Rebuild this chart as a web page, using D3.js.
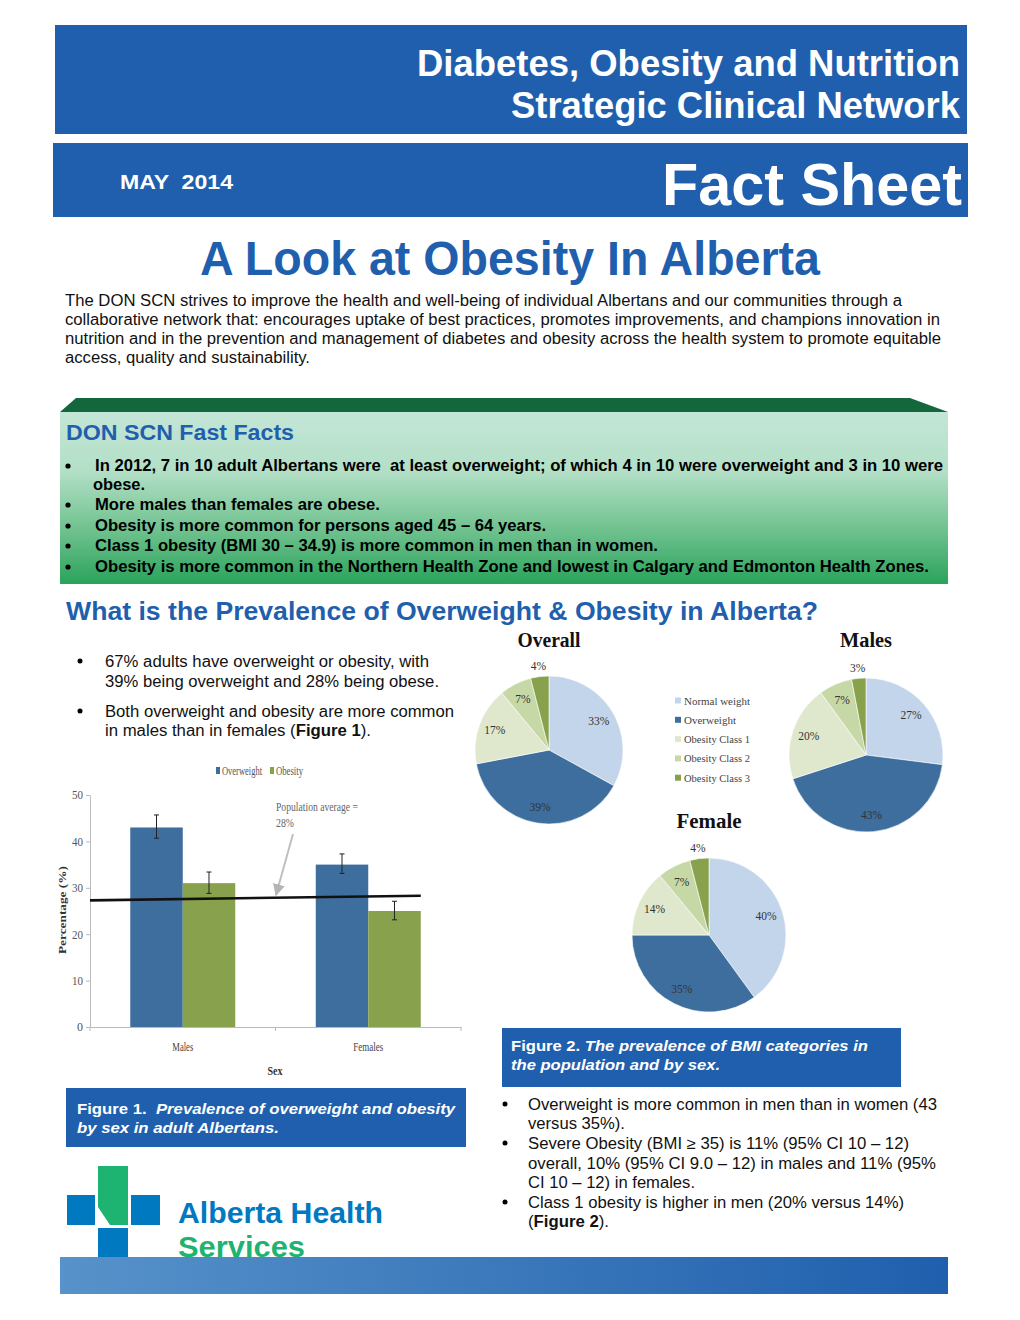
<!DOCTYPE html>
<html><head><meta charset="utf-8">
<script src="https://cdn.jsdelivr.net/npm/d3@7"></script>
<style>html,body{margin:0;padding:0;background:#fff;}svg{display:block;}</style>
</head><body>
<script>
// ---------- DATA ----------
const barCategories = ["Males", "Females"];
const barSeries = ["Overweight", "Obesity"];
const overweightValues = [43, 35];
const obesityValues = [31, 25];
const overweightErrLow = [40.7, 33.1];
const overweightErrHigh = [45.7, 37.3];
const obesityErrLow = [28.8, 23.1];
const obesityErrHigh = [33.4, 27.1];
const popAverageLine = [27.3, 28.3];
const yTicks = [0, 10, 20, 30, 40, 50];

const pieCategories = ["Normal weight", "Overweight", "Obesity Class 1", "Obesity Class 2", "Obesity Class 3"];
const overallValues = [33, 39, 17, 7, 4];
const malesValues = [27, 43, 20, 7, 3];
const femaleValues = [40, 35, 14, 7, 4];

// ---------- SETUP ----------
const W = 1020, H = 1320;
const SANS = "'Liberation Sans', Arial, sans-serif";
const NARROW = "'Liberation Sans Narrow', 'Liberation Sans', Arial, sans-serif";
const SERIF = "'Liberation Serif', 'DejaVu Serif', serif";
const BLUE = "#1f5fae";

const svg = d3.select("body").append("svg").attr("width", W).attr("height", H);
const defs = svg.append("defs");

function T(g, x, y, s, o = {}) {
  const t = g.append("text").attr("x", x).attr("y", y)
    .attr("font-family", o.f || SANS).attr("font-size", o.s || 16)
    .attr("font-weight", o.w || "normal").attr("fill", o.c || "#000")
    .style("white-space", "pre");
  if (o.a) t.attr("text-anchor", o.a);
  if (o.i) t.attr("font-style", "italic");
  if (o.L) t.attr("textLength", o.L).attr("lengthAdjust", "spacingAndGlyphs");
  if (Array.isArray(s)) {
    s.forEach(seg => {
      const sp = t.append("tspan").text(seg[0]);
      if (seg[1]) sp.attr("font-weight", "bold");
      if (seg[2]) sp.attr("font-style", "italic");
    });
  } else t.text(s);
  return t;
}

// ---------- HEADER ----------
svg.append("rect").attr("x", 55).attr("y", 25).attr("width", 912).attr("height", 109).attr("fill", BLUE);
svg.append("rect").attr("x", 53).attr("y", 143).attr("width", 915).attr("height", 74).attr("fill", BLUE);
T(svg, 960, 76, "Diabetes, Obesity and Nutrition", {f: NARROW, s: 36, w: "bold", c: "#fff", a: "end", L: 543});
T(svg, 960, 118, "Strategic Clinical Network", {f: NARROW, s: 36, w: "bold", c: "#fff", a: "end", L: 449});
T(svg, 120, 189, "MAY  2014", {f: NARROW, s: 20, w: "bold", c: "#fff", L: 113});
T(svg, 962, 205, "Fact Sheet", {f: NARROW, s: 59, w: "bold", c: "#fff", a: "end", L: 300});

// ---------- TITLE & INTRO ----------
T(svg, 200, 275, "A Look at Obesity In Alberta", {f: NARROW, s: 48, w: "bold", c: BLUE, L: 620});
const intro = [
  ["The DON SCN strives to improve the health and well-being of individual Albertans and our communities through a", 837],
  ["collaborative network that: encourages uptake of best practices, promotes improvements, and champions innovation in", 875],
  ["nutrition and in the prevention and management of diabetes and obesity across the health system to promote equitable", 876],
  ["access, quality and sustainability.", 245]
];
intro.forEach((l, i) => T(svg, 65, 305.5 + i * 19, l[0], {f: NARROW, s: 16, c: "#111", L: l[1]}));

// ---------- FAST FACTS ----------
const gFF = defs.append("linearGradient").attr("id", "ffg").attr("x1", 0).attr("y1", 0).attr("x2", 0).attr("y2", 1);
gFF.append("stop").attr("offset", "0%").attr("stop-color", "#c4e6d7");
gFF.append("stop").attr("offset", "35%").attr("stop-color", "#b2dfc6");
gFF.append("stop").attr("offset", "70%").attr("stop-color", "#6cc08c");
gFF.append("stop").attr("offset", "100%").attr("stop-color", "#2aa35b");
svg.append("polygon").attr("points", "76,398 910,398 948,412 60,412").attr("fill", "#14673d");
svg.append("rect").attr("x", 60).attr("y", 412).attr("width", 888).attr("height", 172).attr("fill", "url(#ffg)");
T(svg, 66, 440, "DON SCN Fast Facts", {f: NARROW, s: 22, w: "bold", c: BLUE, L: 228});
const facts = [
  [95, 466, "In 2012, 7 in 10 adult Albertans were  at least overweight; of which 4 in 10 were overweight and 3 in 10 were", 848, true],
  [93, 485, "obese.", 52, false],
  [95, 505, "More males than females are obese.", 285, true],
  [95, 526, "Obesity is more common for persons aged 45 – 64 years.", 451, true],
  [95, 546, "Class 1 obesity (BMI 30 – 34.9) is more common in men than in women.", 563, true],
  [95, 567, "Obesity is more common in the Northern Health Zone and lowest in Calgary and Edmonton Health Zones.", 834, true]
];
facts.forEach(f => {
  if (f[4]) svg.append("circle").attr("cx", 68).attr("cy", f[1]).attr("r", 2.6).attr("fill", "#000");
  T(svg, f[0], f[1] + 5, f[2], {f: NARROW, s: 16, w: "bold", c: "#000", L: f[3]});
});

// ---------- SECTION HEADING ----------
T(svg, 66, 620, "What is the Prevalence of Overweight & Obesity in Alberta?", {s: 25, w: "bold", c: BLUE, L: 752});

// left bullets
const leftB = [
  [661, [["67% adults have overweight or obesity, with"]], 324, true],
  [681, [["39% being overweight and 28% being obese."]], 334, false],
  [711, [["Both overweight and obesity are more common"]], 349, true],
  [730, [["in males than in females ("], ["Figure 1", true], [")."]], 266, false]
];
leftB.forEach(b => {
  if (b[3]) svg.append("circle").attr("cx", 80).attr("cy", b[0]).attr("r", 2.5).attr("fill", "#000");
  T(svg, 105, b[0] + 5.5, b[1], {s: 16, c: "#111", L: b[2]});
});

// ---------- BAR CHART ----------
const bc = svg.append("g");
const x0 = d3.scaleBand().domain(barCategories).range([90, 461]).padding(0);
const x1 = d3.scaleBand().domain(barSeries).range([x0.bandwidth() * 0.217, x0.bandwidth() * 0.783]);
const y = d3.scaleLinear().domain([0, 50]).range([1027, 795]);
const barColors = {Overweight: "#3e6e9e", Obesity: "#87a14c"};
const seriesVals = {Overweight: overweightValues, Obesity: obesityValues};
const errLo = {Overweight: overweightErrLow, Obesity: obesityErrLow};
const errHi = {Overweight: overweightErrHigh, Obesity: obesityErrHigh};

// axes
const yAxis = bc.append("g").attr("transform", "translate(90,0)")
  .call(d3.axisLeft(y).tickValues(yTicks).tickSize(4).tickSizeOuter(0));
yAxis.select(".domain").attr("stroke", "#bbb");
yAxis.selectAll(".tick line").attr("stroke", "#bbb");
yAxis.selectAll(".tick text").attr("font-family", SERIF).attr("font-size", 12).attr("fill", "#555").attr("x", -7)
  .attr("textLength", d => d < 10 ? 6 : 11).attr("lengthAdjust", "spacingAndGlyphs");
const xAxis = bc.append("g").attr("transform", "translate(0,1027)")
  .call(d3.axisBottom(x0).tickSize(0).tickFormat(""));
xAxis.select(".domain").attr("stroke", "#bbb");
[90, 90 + x0.step(), 461].forEach(px => bc.append("line").attr("x1", px).attr("x2", px).attr("y1", 1027).attr("y2", 1031).attr("stroke", "#bbb"));

barCategories.forEach((cat, ci) => {
  barSeries.forEach(s => {
    const bx = x0(cat) + x1(s);
    bc.append("rect").attr("x", bx).attr("y", y(seriesVals[s][ci])).attr("width", x1.bandwidth())
      .attr("height", y(0) - y(seriesVals[s][ci])).attr("fill", barColors[s]);
  });
});
// error bars
barCategories.forEach((cat, ci) => {
  barSeries.forEach(s => {
    const cx = x0(cat) + x1(s) + x1.bandwidth() / 2;
    const lo = y(errLo[s][ci]), hi = y(errHi[s][ci]);
    bc.append("line").attr("x1", cx).attr("x2", cx).attr("y1", lo).attr("y2", hi).attr("stroke", "#222").attr("stroke-width", 1);
    [lo, hi].forEach(yy => bc.append("line").attr("x1", cx - 2.5).attr("x2", cx + 2.5).attr("y1", yy).attr("y2", yy).attr("stroke", "#222").attr("stroke-width", 1));
  });
});
// population average line
const lastBarEnd = x0(barCategories[1]) + x1(barSeries[1]) + x1.bandwidth();
bc.append("line").attr("x1", 90).attr("x2", lastBarEnd)
  .attr("y1", y(popAverageLine[0])).attr("y2", y(popAverageLine[1]))
  .attr("stroke", "#111").attr("stroke-width", 2.6);
// annotation
T(bc, 276, 811, "Population average =", {f: SERIF, s: 13, c: "#666", L: 82});
T(bc, 276, 827, "28%", {f: SERIF, s: 13, c: "#666", L: 18});
defs.append("marker").attr("id", "arr").attr("viewBox", "0 0 10 10").attr("refX", 9).attr("refY", 5)
  .attr("markerWidth", 6).attr("markerHeight", 6).attr("orient", "auto")
  .append("path").attr("d", "M0,0 L10,5 L0,10 z").attr("fill", "#b5b5b5");
bc.append("line").attr("x1", 293).attr("y1", 834).attr("x2", 276).attr("y2", 895)
  .attr("stroke", "#c0c0c0").attr("stroke-width", 2).attr("marker-end", "url(#arr)");
// legend
barSeries.forEach((s, i) => {
  const lx = [216, 270][i];
  bc.append("rect").attr("x", lx).attr("y", 767).attr("width", 4).attr("height", 7).attr("fill", barColors[s]);
  T(bc, lx + 6, 775, s, {f: SERIF, s: 12, c: "#555", L: [40, 27][i]});
});
// category labels & axis titles
barCategories.forEach((cat, ci) => T(bc, x0(cat) + x0.bandwidth() / 2, 1051, cat, {f: SERIF, s: 12, c: "#444", a: "middle", L: [21, 30][ci]}));
T(bc, 275, 1075, "Sex", {f: SERIF, s: 12, w: "bold", c: "#333", a: "middle", L: 15});
T(bc, 0, 0, "Percentage (%)", {f: SERIF, s: 9.5, w: "bold", c: "#333", a: "middle", L: 88})
  .attr("transform", "translate(66,910) rotate(-90)");

// figure 1 caption
svg.append("rect").attr("x", 66).attr("y", 1088).attr("width", 400).attr("height", 59).attr("fill", BLUE);
T(svg, 77, 1114, [["Figure 1.  ", true], ["Prevalence of overweight and obesity", true, true]], {s: 15, c: "#fff", L: 378});
T(svg, 77, 1133, [["by sex in adult Albertans.", true, true]], {s: 15, c: "#fff", L: 202});

// ---------- PIE CHARTS ----------
const pieColors = ["#c3d5ea", "#3e6e9e", "#dfe8cd", "#c7d8a7", "#87a14c"];
const pie = d3.pie().sort(null).value(d => d);
function drawPie(cx, cy, r, values, title, titleY, titleLen) {
  const g = svg.append("g").attr("transform", `translate(${cx},${cy})`);
  const arc = d3.arc().innerRadius(0).outerRadius(r);
  const arcs = pie(values);
  g.selectAll("path").data(arcs).join("path").attr("d", arc)
    .attr("fill", (d, i) => pieColors[i]).attr("stroke", "#fff").attr("stroke-width", 0.6);
  arcs.forEach(d => {
    const lr = d.value < 5 ? r * 1.14 : r * 0.78;
    const a = (d.startAngle + d.endAngle) / 2;
    T(g, Math.sin(a) * lr, -Math.cos(a) * lr + 4, d.value + "%", {f: SERIF, s: 11.5, c: "#333", a: "middle"});
  });
  T(svg, cx, titleY, title, {f: SERIF, s: 20, w: "bold", c: "#111", a: "middle", L: titleLen});
}
drawPie(549, 750, 74, overallValues, "Overall", 647, 63);
drawPie(866, 755, 77, malesValues, "Males", 647, 52);
drawPie(709, 935, 77, femaleValues, "Female", 828, 65);
// pie legend
pieCategories.forEach((c, i) => {
  const ly = 701 + i * 19.3;
  svg.append("rect").attr("x", 675).attr("y", ly - 3.5).attr("width", 6).attr("height", 6).attr("fill", pieColors[i]);
  T(svg, 684, ly + 3.5, c, {f: SERIF, s: 11, c: "#444", L: [66, 52, 66, 66, 66][i]});
});

// figure 2 caption
svg.append("rect").attr("x", 502).attr("y", 1028).attr("width", 399).attr("height", 59).attr("fill", BLUE);
T(svg, 511, 1051, [["Figure 2. ", true], ["The prevalence of BMI categories in", true, true]], {s: 15, c: "#fff", L: 357});
T(svg, 511, 1070, [["the population and by sex.", true, true]], {s: 15, c: "#fff", L: 209});

// right bullets
const rightB = [
  [1104, [["Overweight is more common in men than in women (43"]], 409, true],
  [1123, [["versus 35%)."]], 97, false],
  [1143, [["Severe Obesity (BMI ≥ 35) is 11% (95% CI 10 – 12)"]], 381, true],
  [1163, [["overall, 10% (95% CI 9.0 – 12) in males and 11% (95%"]], 408, false],
  [1182, [["CI 10 – 12) in females."]], 167, false],
  [1202, [["Class 1 obesity is higher in men (20% versus 14%)"]], 376, true],
  [1221, [["("], ["Figure 2", true], [")."]], 81, false]
];
rightB.forEach(b => {
  if (b[3]) svg.append("circle").attr("cx", 505).attr("cy", b[0]).attr("r", 2.5).attr("fill", "#000");
  T(svg, 528, b[0] + 5.5, b[1], {s: 16, c: "#111", L: b[2]});
});

// ---------- LOGO ----------
const LB = "#0079c1", LG = "#1db371";
svg.append("rect").attr("x", 67).attr("y", 1195).attr("width", 28).attr("height", 30).attr("fill", LB);
svg.append("rect").attr("x", 131).attr("y", 1195).attr("width", 29).attr("height", 30).attr("fill", LB);
svg.append("rect").attr("x", 98).attr("y", 1228).attr("width", 30).attr("height", 30).attr("fill", LB);
svg.append("polygon").attr("points", "98,1166 128,1166 128,1225 110,1225 98,1207").attr("fill", LG);
T(svg, 178, 1223, "Alberta Health", {f: NARROW, s: 30, w: "bold", c: LB, L: 205});
T(svg, 178, 1257, "Services", {f: NARROW, s: 30, w: "bold", c: LG, L: 127});

// bottom band
const gB = defs.append("linearGradient").attr("id", "bandg").attr("x1", 0).attr("y1", 0).attr("x2", 1).attr("y2", 0);
gB.append("stop").attr("offset", "0%").attr("stop-color", "#5792ca");
gB.append("stop").attr("offset", "100%").attr("stop-color", "#1f5fad");
svg.append("rect").attr("x", 60).attr("y", 1257).attr("width", 888).attr("height", 37).attr("fill", "url(#bandg)");
</script>
</body></html>
